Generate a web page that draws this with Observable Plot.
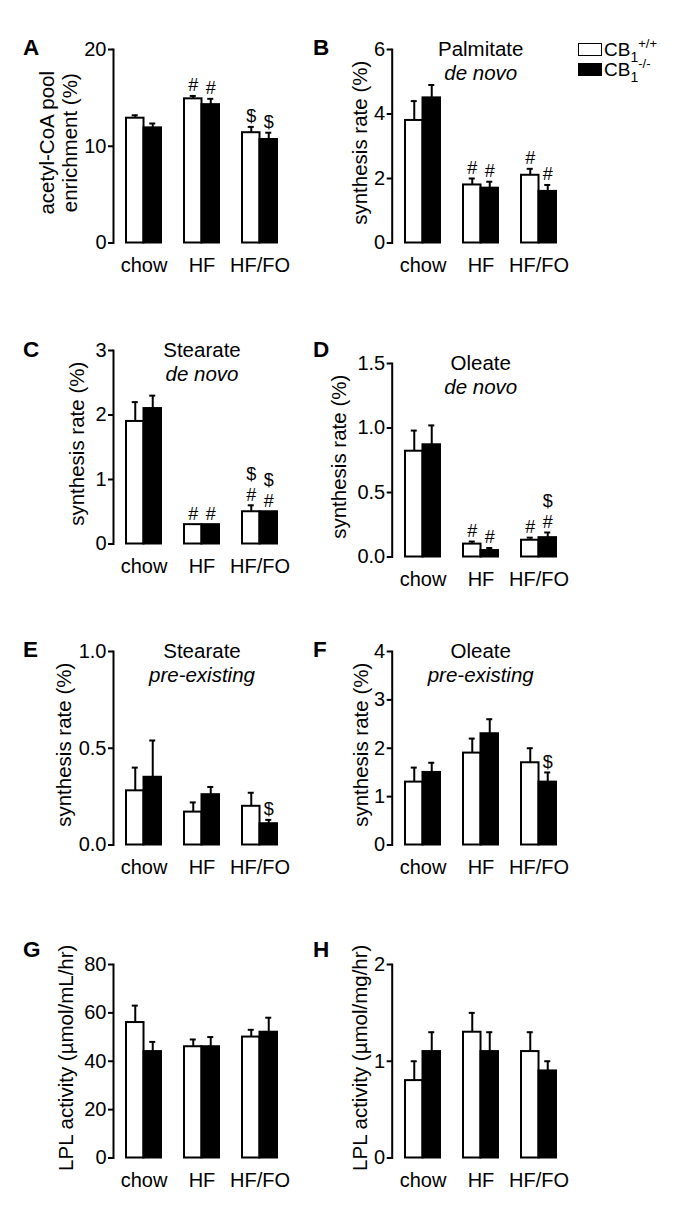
<!DOCTYPE html>
<html>
<head>
<meta charset="utf-8">
<script src="https://cdn.jsdelivr.net/npm/d3@7"></script>
<script src="https://cdn.jsdelivr.net/npm/@observablehq/plot@0.6"></script>
<style>
  body { margin: 0; background: #fff; font-family: "Liberation Sans", Arial, sans-serif; color: #000; }
  #root { position: relative; width: 685px; height: 1221px; overflow: hidden; }
  .panel { position: absolute; }
  .letter { position: absolute; font-weight: bold; font-size: 22.5px; line-height: 1; }
  .lg-box { position: absolute; width: 22px; height: 11px; border: 1.5px solid #000; }
  .lg-text { position: absolute; font-size: 19px; line-height: 1; white-space: nowrap; }
  .lg-text .sub { font-size: 14px; position: relative; top: 6px; }
  .lg-text .sup { font-size: 13px; position: relative; top: -8px; }
</style>
</head>
<body>
<div id="root"></div>
<script>
// ---------- data ----------
const groups = ["chow", "HF", "HF/FO"];

// A: acetyl-CoA pool enrichment (%)
const aTicks = [0, 10, 20];
const aWt = [12.9, 14.9, 11.4];
const aWtErr = [0.3, 0.3, 0.6];
const aKo = [11.9, 14.3, 10.7];
const aKoErr = [0.45, 0.6, 0.7];
const aWtSig = ["", "#", "$"];
const aKoSig = ["", "#", "$"];

// B: Palmitate de novo
const bTicks = [0, 2, 4, 6];
const bWt = [3.8, 1.8, 2.1];
const bWtErr = [0.6, 0.2, 0.2];
const bKo = [4.5, 1.7, 1.6];
const bKoErr = [0.4, 0.2, 0.2];
const bWtSig = ["", "#", "#"];
const bKoSig = ["", "#", "#"];

// C: Stearate de novo
const cTicks = [0, 1, 2, 3];
const cWt = [1.9, 0.3, 0.5];
const cWtErr = [0.3, 0, 0.1];
const cKo = [2.1, 0.3, 0.5];
const cKoErr = [0.2, 0, 0];
const cWtSig = ["", "#", "#$"];
const cKoSig = ["", "#", "#$"];

// D: Oleate de novo
const dTicks = [0, 0.5, 1.0, 1.5];
const dWt = [0.82, 0.10, 0.13];
const dWtErr = [0.16, 0.02, 0.02];
const dKo = [0.87, 0.05, 0.15];
const dKoErr = [0.15, 0.02, 0.04];
const dWtSig = ["", "#", "#"];
const dKoSig = ["", "#", "#$"];

// E: Stearate pre-existing
const eTicks = [0, 0.5, 1.0];
const eWt = [0.28, 0.17, 0.20];
const eWtErr = [0.12, 0.05, 0.07];
const eKo = [0.35, 0.26, 0.11];
const eKoErr = [0.19, 0.04, 0.02];
const eWtSig = ["", "", ""];
const eKoSig = ["", "", "$"];

// F: Oleate pre-existing
const fTicks = [0, 1, 2, 3, 4];
const fWt = [1.3, 1.9, 1.7];
const fWtErr = [0.3, 0.3, 0.3];
const fKo = [1.5, 2.3, 1.3];
const fKoErr = [0.2, 0.3, 0.2];
const fWtSig = ["", "", ""];
const fKoSig = ["", "", "$"];

// G: LPL activity (µmol/mL/hr)
const gTicks = [0, 20, 40, 60, 80];
const gWt = [56, 46, 50];
const gWtErr = [7, 3, 3];
const gKo = [44, 46, 52];
const gKoErr = [4, 4, 6];
const gWtSig = ["", "", ""];
const gKoSig = ["", "", ""];

// H: LPL activity (µmol/mg/hr)
const hTicks = [0, 1, 2];
const hWt = [0.8, 1.3, 1.1];
const hWtErr = [0.2, 0.2, 0.2];
const hKo = [1.1, 1.1, 0.9];
const hKoErr = [0.2, 0.2, 0.1];
const hWtSig = ["", "", ""];
const hKoSig = ["", "", ""];

const legendLabels = [["CB", "1", "+/+"], ["CB", "1", "-/-"]];

// ---------- layout ----------
const FONT = '"Liberation Sans", Arial, sans-serif';
const panels = [
  {letter: "A", col: 0, frameTop: 49, letterTop: 36.5, yLabel: "acetyl-CoA pool\nenrichment (%)", labelDx: -55, title: null, sub: null,
   ticks: aTicks, fmt: d3.format("d"), wt: aWt, wtErr: aWtErr, ko: aKo, koErr: aKoErr, wtSig: aWtSig, koSig: aKoSig},
  {letter: "B", col: 1, frameTop: 49, letterTop: 37, yLabel: "synthesis rate (%)", labelDx: -33, title: "Palmitate", sub: "de novo",
   ticks: bTicks, fmt: d3.format("d"), wt: bWt, wtErr: bWtErr, ko: bKo, koErr: bKoErr, wtSig: bWtSig, koSig: bKoSig},
  {letter: "C", col: 0, frameTop: 350, letterTop: 339, yLabel: "synthesis rate (%)", labelDx: -36.5, title: "Stearate", sub: "de novo",
   ticks: cTicks, fmt: d3.format("d"), wt: cWt, wtErr: cWtErr, ko: cKo, koErr: cKoErr, wtSig: cWtSig, koSig: cKoSig},
  {letter: "D", col: 1, frameTop: 362.7, letterTop: 339, yLabel: "synthesis rate (%)", labelDx: -54, title: "Oleate", sub: "de novo",
   ticks: dTicks, fmt: d3.format(".1f"), wt: dWt, wtErr: dWtErr, ko: dKo, koErr: dKoErr, wtSig: dWtSig, koSig: dKoSig},
  {letter: "E", col: 0, frameTop: 650.7, letterTop: 639, yLabel: "synthesis rate (%)", labelDx: -49.5, title: "Stearate", sub: "pre-existing",
   ticks: eTicks, fmt: d3.format(".1f"), wt: eWt, wtErr: eWtErr, ko: eKo, koErr: eKoErr, wtSig: eWtSig, koSig: eKoSig},
  {letter: "F", col: 1, frameTop: 650.7, letterTop: 639, yLabel: "synthesis rate (%)", labelDx: -32, title: "Oleate", sub: "pre-existing",
   ticks: fTicks, fmt: d3.format("d"), wt: fWt, wtErr: fWtErr, ko: fKo, koErr: fKoErr, wtSig: fWtSig, koSig: fKoSig},
  {letter: "G", col: 0, frameTop: 964.3, letterTop: 939, yLabel: "LPL activity (µmol/mL/hr)", labelDx: -48, title: null, sub: null,
   ticks: gTicks, fmt: d3.format("d"), wt: gWt, wtErr: gWtErr, ko: gKo, koErr: gKoErr, wtSig: gWtSig, koSig: gKoSig},
  {letter: "H", col: 1, frameTop: 964.3, letterTop: 939, yLabel: "LPL activity (µmol/mg/hr)", labelDx: -33, title: null, sub: null,
   ticks: hTicks, fmt: d3.format("d"), wt: hWt, wtErr: hWtErr, ko: hKo, koErr: hKoErr, wtSig: hWtSig, koSig: hKoSig}
];

const root = document.getElementById("root");
const PI = 0.402, PO = 0.214, RANGE = 177;
const STEP = RANGE / (groups.length - PI + 2 * PO);
const BW = STEP * (1 - PI);
const MT = 30, MB = 45, FH = 193.5;

function rows(vals, errs, sigs) {
  return groups.map((g, i) => ({group: g, value: vals[i], err: errs[i], sig: sigs[i]}));
}

function sideMarks(data, side) {
  const dx = side * BW / 4;
  const marks = [
    Plot.barY(data, {x: "group", y: "value",
      fill: side < 0 ? "white" : "black", stroke: "black", strokeWidth: 2,
      insetLeft: side < 0 ? 0 : BW / 2, insetRight: side < 0 ? BW / 2 : 0}),
    Plot.ruleX(data.filter(d => d.err > 0), {x: "group", y1: "value", y2: d => d.value + d.err,
      dx, stroke: "black", strokeWidth: 2}),
    Plot.tickY(data.filter(d => d.err > 0), {x: "group", y: d => d.value + d.err, dx,
      insetLeft: BW / 2 - 3, insetRight: BW / 2 - 3, stroke: "black", strokeWidth: 2})
  ];
  // significance symbols stacked bottom-up (first char sits lowest)
  for (let k = 0; k < 2; k++) {
    marks.push(Plot.text(data.filter(d => d.sig.length > k), {
      x: "group", y: d => d.value + d.err, text: d => d.sig[k],
      dx, dy: -10.5 - 21 * k, fontSize: 18, lineAnchor: "middle", fill: "black"}));
  }
  return marks;
}

for (const p of panels) {
  const ML = p.col === 0 ? 113 : 91.7;
  const W = p.col === 0 ? 300 : 385;
  const left = p.col === 0 ? 0 : 300;
  const wtRows = rows(p.wt, p.wtErr, p.wtSig);
  const koRows = rows(p.ko, p.koErr, p.koSig);
  const max = p.ticks[p.ticks.length - 1];

  const marks = [
    ...sideMarks(wtRows, -1),
    ...sideMarks(koRows, 1),
    Plot.frame({anchor: "left", stroke: "black", strokeWidth: 2}),
    Plot.axisY(p.ticks, {tickSize: 5, tickPadding: 2, tickFormat: p.fmt, fontSize: 20,
      stroke: "black", strokeWidth: 2, label: null}),
    Plot.axisX({tickSize: 0, tickPadding: 15, fontSize: 20, label: null}),
    Plot.text([p.yLabel], {text: d => d, frameAnchor: "left", rotate: -90, dx: p.labelDx, dy: -3.5,
      fontSize: 20.5, lineAnchor: "middle", textAnchor: "middle", lineHeight: 1.12, fill: "black"})
  ];
  if (p.title) {
    marks.push(Plot.text([p.title], {text: d => d, frameAnchor: "top", dy: 0, fontSize: 20.5, lineAnchor: "middle", fill: "black"}));
    marks.push(Plot.text([p.sub], {text: d => d, frameAnchor: "top", dy: 23.5, fontSize: 20.5, fontStyle: "italic", lineAnchor: "middle", fill: "black"}));
  }

  const chart = Plot.plot({
    width: W,
    height: MT + FH + MB,
    marginLeft: ML,
    marginRight: W - ML - RANGE,
    marginTop: MT,
    marginBottom: MB,
    style: {background: "transparent", fontFamily: FONT, overflow: "visible", color: "black"},
    x: {domain: groups, paddingInner: PI, paddingOuter: PO, axis: null},
    y: {domain: [0, max], axis: null},
    marks
  });
  chart.classList.add("panel");
  chart.style.left = left + "px";
  chart.style.top = (p.frameTop - MT) + "px";
  root.appendChild(chart);

  const L = document.createElement("div");
  L.className = "letter";
  L.textContent = p.letter;
  L.style.left = (p.col === 0 ? 23 : 313) + "px";
  L.style.top = p.letterTop + "px";
  root.appendChild(L);
}

// legend
legendLabels.forEach((lab, i) => {
  const top = 43 + i * 20;
  const box = document.createElement("div");
  box.className = "lg-box";
  box.style.left = "578px";
  box.style.top = top + "px";
  box.style.background = i === 0 ? "white" : "black";
  root.appendChild(box);
  const t = document.createElement("div");
  t.className = "lg-text";
  t.style.left = "604px";
  t.style.top = (top - 3) + "px";
  t.innerHTML = `${lab[0]}<span class="sub">${lab[1]}</span><span class="sup">${lab[2]}</span>`;
  root.appendChild(t);
});
</script>
</body>
</html>
